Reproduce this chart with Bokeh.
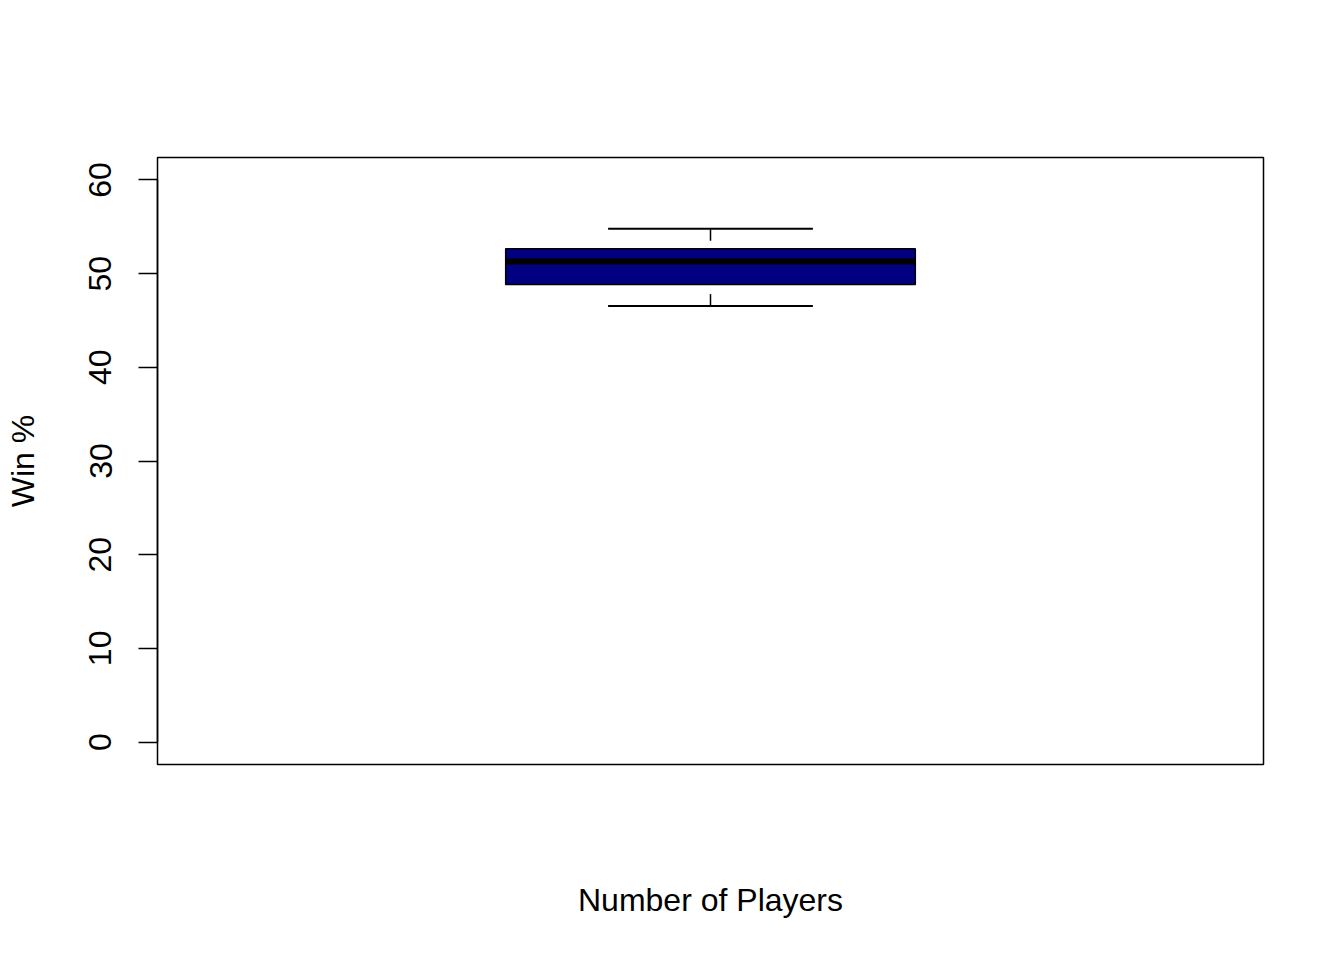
from bokeh.plotting import figure
from bokeh.models import FixedTicker, Range1d
from bokeh.embed import file_html
from bokeh.resources import INLINE

# Data
group_pos = [1.5]
whisker_low = [46.54]
q1 = [48.83]
median = [51.31]
q3 = [52.67]
whisker_high = [54.80]
y_ticks = [0, 10, 20, 30, 40, 50, 60]

box_half = 0.4
cap_half = 0.2
FONT = "Liberation Sans"

p = figure(width=1344, height=960, output_backend="svg", toolbar_location=None,
           x_range=Range1d(0.42, 2.58), y_range=Range1d(-2.4, 62.4),
           min_border_left=157, min_border_right=81, min_border_top=157,
           min_border_bottom=196)
p.xgrid.visible = False
p.ygrid.visible = False
p.background_fill_color = "white"
p.border_fill_color = "white"
p.outline_line_color = "black"
p.outline_line_width = 1.5

# y axis
ya = p.yaxis[0]
ya.ticker = FixedTicker(ticks=y_ticks)
ya.bounds = (0, 60)
ya.axis_line_color = "black"
ya.axis_line_width = 1.5
ya.major_tick_out = 19
ya.major_tick_in = 0
ya.major_tick_line_width = 1.5
ya.minor_tick_line_color = None
ya.major_label_orientation = "vertical"
ya.major_label_standoff = 27
ya.major_label_text_font = FONT
ya.major_label_text_font_size = "32px"
ya.major_label_text_color = "black"
ya.axis_label = "Win %"
ya.axis_label_text_font = FONT
ya.axis_label_text_font_size = "32px"
ya.axis_label_text_font_style = "normal"
ya.axis_label_text_color = "black"
ya.axis_label_standoff = 46

# x axis (label only)
xa = p.xaxis[0]
xa.ticker = FixedTicker(ticks=[])
xa.axis_line_color = None
xa.major_tick_line_color = None
xa.minor_tick_line_color = None
xa.axis_label = "Number of Players"
xa.axis_label_text_font = FONT
xa.axis_label_text_font_size = "32px"
xa.axis_label_text_font_style = "normal"
xa.axis_label_text_color = "black"
xa.axis_label_standoff = 117

left = [g - box_half for g in group_pos]
right = [g + box_half for g in group_pos]
cap_l = [g - cap_half for g in group_pos]
cap_r = [g + cap_half for g in group_pos]

# whiskers (dashed, drawn from whisker end toward the box)
p.segment(x0=group_pos, y0=whisker_high, x1=group_pos, y1=q3,
          line_color="black", line_width=1.5, line_dash="12 12")
p.segment(x0=group_pos, y0=whisker_low, x1=group_pos, y1=q1,
          line_color="black", line_width=1.5, line_dash="12 12")
# caps
p.segment(x0=cap_l, y0=whisker_high, x1=cap_r, y1=whisker_high,
          line_color="black", line_width=2)
p.segment(x0=cap_l, y0=whisker_low, x1=cap_r, y1=whisker_low,
          line_color="black", line_width=2)
# box
p.quad(left=left, right=right, bottom=q1, top=q3,
       fill_color="#000080", line_color="black", line_width=1.5)
# median
p.segment(x0=left, y0=median, x1=right, y1=median,
          line_color="black", line_width=6, line_cap="butt")

open("out.html", "w").write(file_html(p, INLINE))
